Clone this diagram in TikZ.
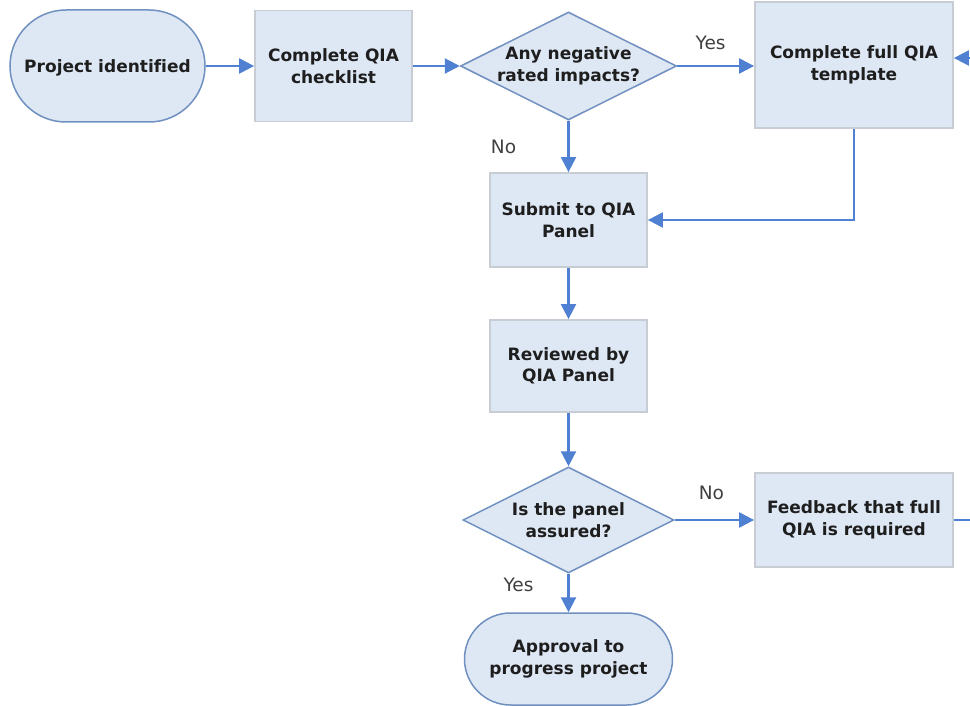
\documentclass[tikz,border=0pt]{standalone}
\usepackage{fontspec}
\setmainfont[Ligatures=CommonOff]{DejaVu Sans}
\usetikzlibrary{shapes.geometric,arrows.meta}
\definecolor{fillc}{HTML}{DEE8F5}
\definecolor{linec}{HTML}{4F80D2}
\definecolor{shapeb}{HTML}{7090C0}
\definecolor{boxb}{HTML}{C8CDD4}
\definecolor{txt}{HTML}{1E1E1E}
\begin{document}
\begin{tikzpicture}[x=1pt,y=-1pt,
  base/.style={fill=fillc, font=\bfseries\fontsize{17}{21.5}\selectfont, text=txt, align=center, inner sep=0pt},
  procbox/.style={base, draw=boxb, line width=1.8pt},
  term/.style={base, draw=shapeb, line width=1.5pt},
  dec/.style={base, draw=shapeb, line width=1.5pt, diamond},
  dtext/.style={base, fill=none, draw=none},
  conn/.style={draw=linec, line width=2.2pt, -{Triangle[length=15pt,width=15pt]}},
  lab/.style={font=\fontsize{18.5}{22}\selectfont, text=black!75}
]
\clip (0,0) rectangle (970,706);
\fill[white] (0,0) rectangle (970,706);
\node[term, minimum width=195pt, minimum height=112pt, rounded corners=56pt, text depth=0pt] (start) at (107.5,66) {Project identified};
\node[procbox, minimum width=157pt, minimum height=111pt] (chk) at (333.5,66) {Complete QIA\\checklist};
\node[dec, minimum width=216pt, minimum height=108pt, label={[dtext]center:{Any negative\\rated impacts?}}] (d1) at (568.5,66) {};
\node[procbox, minimum width=198pt, minimum height=126pt] (tpl) at (854,65) {Complete full QIA\\template};
\node[procbox, minimum width=157pt, minimum height=94pt] (sub) at (568.5,220) {Submit to QIA\\Panel};
\node[procbox, minimum width=157pt, minimum height=92pt] (rev) at (568.5,366) {Reviewed by\\QIA Panel};
\node[dec, minimum width=211pt, minimum height=106pt, label={[dtext]center:{Is the panel\\assured?}}] (d2) at (568.5,520) {};
\node[procbox, minimum width=198pt, minimum height=94pt] (fb) at (854,520) {Feedback that full\\QIA is required};
\node[term, minimum width=208pt, minimum height=92pt, rounded corners=46pt] (end) at (568.5,659) {Approval to\\progress project};

\draw[conn] (start.east) -- (start.east -| chk.west);
\draw[conn] (chk.east) -- (chk.east -| d1.west);
\draw[conn] (d1.east) -- (d1.east -| tpl.west) node[lab, midway, xshift=-5pt, yshift=23pt] {Yes};
\draw[conn] (d1.south) -- (sub.north) node[lab, midway, xshift=-65pt] {No};
\draw[conn] (tpl.south) |- (sub.east);
\draw[conn] (sub.south) -- (rev.north);
\draw[conn] (rev.south) -- (d2.north);
\draw[conn] (d2.east) -- (fb.west) node[lab, midway, xshift=-3pt, yshift=27pt] {No};
\draw[conn] (d2.south) -- (end.north) node[lab, midway, xshift=-50pt, yshift=8pt] {Yes};
\draw[conn] (fb.east) -- ++(40,0) |- ([yshift=7pt]tpl.east);
\end{tikzpicture}
\end{document}
